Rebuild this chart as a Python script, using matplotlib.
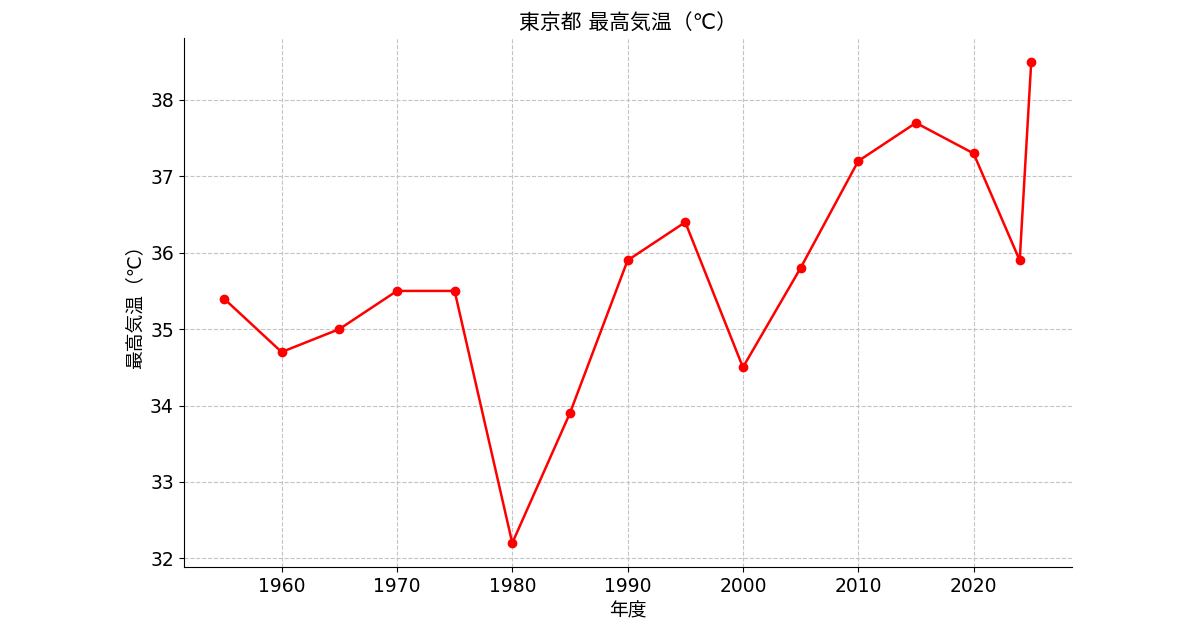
import matplotlib
matplotlib.use("Agg")
import matplotlib.pyplot as plt

years = [1955, 1960, 1965, 1970, 1975, 1980, 1985, 1990, 1995, 2000, 2005, 2010, 2015, 2020, 2024, 2025]
max_temp = [35.4, 34.7, 35.0, 35.5, 35.5, 32.2, 33.9, 35.9, 36.4, 34.5, 35.8, 37.2, 37.7, 37.3, 35.9, 38.5]
title = "東京都 最高気温（℃）"
xlabel = "年度"
ylabel = "最高気温（℃）"

plt.rcParams['font.family'] = ['DejaVu Sans', 'Noto Sans CJK JP']

fig = plt.figure(figsize=(12, 6.28), dpi=100)
ax = fig.add_axes([0.153, 0.097, 0.740, 0.843])
ax.plot(years, max_temp, color='#ff0000', marker='o', markersize=6, linewidth=1.8)
ax.set_title(title, fontsize=15, pad=6)
ax.set_xlabel(xlabel, fontsize=13.5)
ax.set_ylabel(ylabel, fontsize=13.5)
ax.tick_params(labelsize=13.5)
ax.grid(True, linestyle='--', color='#c4c4c4', linewidth=0.8)
for s in ['top', 'right']:
    ax.spines[s].set_visible(False)
fig.savefig('out.png', dpi=100)
